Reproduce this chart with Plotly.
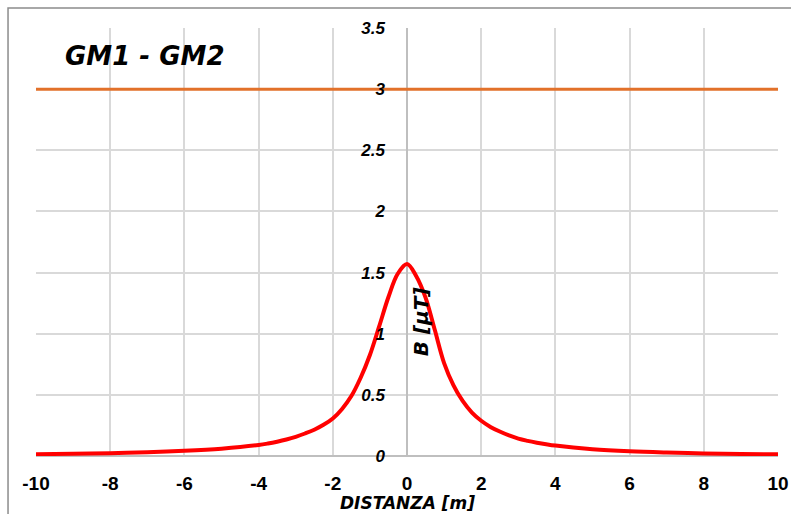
import plotly.graph_objects as go

# Data
distanza = [-10, -9, -8, -7, -6, -5, -4, -3.75, -3.5, -3.25, -3, -2.75, -2.5, -2.25, -2.0,
            -1.75, -1.5, -1.25, -1.0, -0.75, -0.5, -0.25, 0, 0.25, 0.5, 0.75, 1.0, 1.25,
            1.5, 1.75, 2.0, 2.25, 2.5, 2.75, 3, 3.25, 3.5, 3.75, 4, 5, 6, 7, 8, 9, 10]
b_field = [0.015, 0.018, 0.023, 0.03, 0.042, 0.06, 0.09, 0.102, 0.117, 0.135, 0.157,
           0.184, 0.215, 0.255, 0.307, 0.385, 0.49, 0.64, 0.826, 1.06, 1.30, 1.49, 1.57,
           1.47, 1.295, 1.03, 0.76, 0.58, 0.45, 0.355, 0.288, 0.238, 0.20, 0.168, 0.142,
           0.124, 0.109, 0.096, 0.085, 0.055, 0.038, 0.028, 0.021, 0.017, 0.014]
limit_x = [-10, 10]
limit_y = [3, 3]
x_ticks = [-10, -8, -6, -4, -2, 0, 2, 4, 6, 8, 10]
y_ticks = [0, 0.5, 1, 1.5, 2, 2.5, 3, 3.5]
y_tick_text = ["0", "0.5", "1", "1.5", "2", "2.5", "3", "3.5"]

fig = go.Figure()
fig.add_trace(go.Scatter(x=limit_x, y=limit_y, mode="lines",
                         line=dict(color="#E2712A", width=3), showlegend=False))
fig.add_trace(go.Scatter(x=distanza, y=b_field, mode="lines",
                         line=dict(color="#FF0000", width=4, shape="spline", smoothing=1.0),
                         showlegend=False))

fig.update_layout(
    width=791, height=514,
    margin=dict(l=36, r=13, t=28, b=58),
    paper_bgcolor="white", plot_bgcolor="white",
    template="none",
    xaxis=dict(range=[-10, 10], tickvals=x_ticks, ticktext=[str(v) for v in x_ticks],
               showgrid=True, gridcolor="#D9D9D9", gridwidth=2,
               zeroline=True, zerolinecolor="#BFBFBF", zerolinewidth=2,
               showline=False, ticks="", automargin=False, ticklabelstandoff=14,
               tickfont=dict(family="Liberation Sans", size=19,
                             color="black", weight="bold")),
    yaxis=dict(range=[0, 3.5], tickvals=y_ticks, ticktext=y_tick_text,
               anchor="free", position=0.5,
               showgrid=True, gridcolor="#D9D9D9", gridwidth=2,
               zeroline=True, zerolinecolor="#BFBFBF", zerolinewidth=2,
               showline=False, ticks="", automargin=False, ticklabelstandoff=22,
               tickfont=dict(family="Liberation Sans", size=17,
                             color="black", weight="bold", style="italic")),
    annotations=[
        dict(text="GM1 - GM2", xref="paper", yref="paper", x=0.147, y=0.935,
             xanchor="center", yanchor="middle", showarrow=False,
             font=dict(family="DejaVu Sans", size=26, color="black",
                       weight="bold", style="italic")),
        dict(text="DISTANZA [m]", xref="paper", yref="paper", x=0.5, y=-0.11,
             xanchor="center", yanchor="middle", showarrow=False,
             font=dict(family="DejaVu Sans", size=17, color="black",
                       weight="bold", style="italic")),
        dict(text="B [µT]", xref="x", yref="y", x=0.40, y=1.10, textangle=-90,
             xanchor="center", yanchor="middle", showarrow=False,
             font=dict(family="DejaVu Sans", size=20, color="black",
                       weight="bold", style="italic")),
    ],
    shapes=[dict(type="rect", xref="paper", yref="paper",
                 x0=-0.0377, y0=-0.4, x1=1.2, y1=1.0467,
                 line=dict(color="#8C8C8C", width=1.5), layer="below")],
)

fig.write_html("out.html")
